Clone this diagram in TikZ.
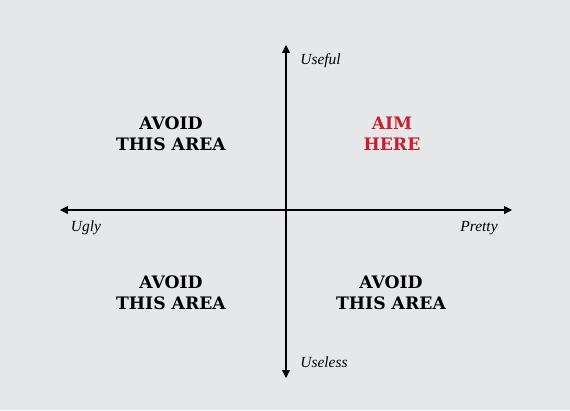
\documentclass[tikz,border=0pt]{standalone}
\usepackage{fontspec}
\setmainfont{Liberation Serif}
\newfontfamily\areafont{DejaVu Serif}
\usetikzlibrary{arrows.meta,positioning}
\definecolor{cback}{RGB}{230,231,233}
\definecolor{cred}{RGB}{198,32,48}

\begin{document}
\begin{tikzpicture}[x=0.02cm,y=-0.02cm,
    area/.style={align=center, font=\areafont\fontsize{9.8}{12}\selectfont\bfseries, inner sep=0},
    axislabel/.style={font=\fontsize{8.8}{10}\selectfont\itshape, inner sep=0},
    axis/.style={line width=0.6pt, -{Triangle[length=4.5pt,width=4.5pt]}}]
    \fill[cback] (0,0) rectangle (570,410);
    \useasboundingbox (0,0) rectangle (570,410);

    \coordinate (Centre) at (286,210);
    \coordinate (Left) at (60,210);
    \coordinate (Right) at (512,210);
    \coordinate (Top) at (286,45);
    \coordinate (Bottom) at (286,378);

    \draw[axis] (Centre) -- (Left);
    \draw[axis] (Centre) -- (Right);
    \draw[axis] (Centre) -- (Top);
    \draw[axis] (Centre) -- (Bottom);

    \node[axislabel] (Ugly) at (86,228) {Ugly};
    \node[axislabel] (Pretty) at (479,228) {Pretty};
    \node[axislabel, anchor=west] (Useful) at (300,61) {Useful};
    \node[axislabel, anchor=west] (Useless) at (300,362) {Useless};

    \node[area] (TopLeft) at (171,134) {AVOID\\THIS AREA};
    \node[area, text=cred] (TopRight) at (392,134) {AIM\\HERE};
    \node[area] (BottomLeft) at (171,293) {AVOID\\THIS AREA};
    \node[area] (BottomRight) at (391,293) {AVOID\\THIS AREA};
\end{tikzpicture}
\end{document}
